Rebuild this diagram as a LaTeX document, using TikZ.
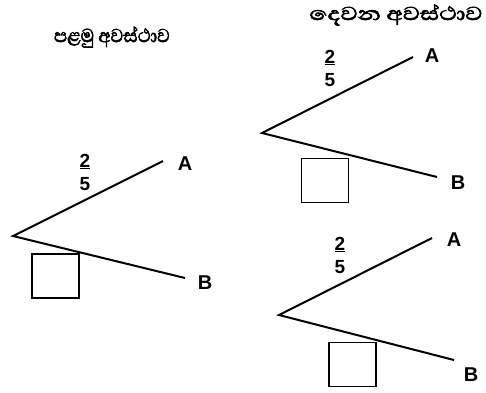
\documentclass[tikz,border=0pt]{standalone}
\usepackage{fontspec}
\setmainfont{Liberation Sans}
\newfontfamily\sinhfont[Script=Sinhala, FakeBold=2.5]{Abhaya Libre}
\begin{document}
\begin{tikzpicture}[x=1pt,y=-1pt,
  branch/.style={line width=2pt},
  lbl/.style={font=\fontsize{20}{22}\selectfont\bfseries, inner sep=0pt},
  frac/.style={font=\fontsize{19}{20}\selectfont\bfseries, inner sep=0pt, align=center},
  box/.style={draw, line width=1.4pt, minimum width=47pt, minimum height=44pt, inner sep=0pt},
  head/.style={font=\sinhfont\fontsize{24}{26}\selectfont, inner sep=0pt, transform shape}]
\useasboundingbox (0,0) rectangle (486,392);
% headings
\node[head, xscale=0.93] (h1) at (112,37) {පළමු අවස්ථාව};
\node[head, xscale=1.25] (h2) at (396,15) {දෙවන අවස්ථාව};
% first stage
\coordinate (v1) at (13,236);
\coordinate (a1) at (163,161);
\coordinate (b1) at (185,278);
\draw[branch] (a1) -- (v1) -- (b1);
\node[lbl] (A1) at (185,164) {A};
\node[lbl] (B1) at (205,283) {B};
\node[frac] (f1) at (85,172) {\underline{2}\\[3pt]5};
\node[box] (s1) at (55.5,276) {};
% second stage top
\coordinate (v2) at (262,133);
\coordinate (a2) at (413,57);
\coordinate (b2) at (437,177);
\draw[branch] (a2) -- (v2) -- (b2);
\node[lbl] (A2) at (432,56) {A};
\node[lbl] (B2) at (458,183) {B};
\node[frac] (f2) at (330,68) {\underline{2}\\[3pt]5};
\node[box] (s2) at (325,180.5) {};
% second stage bottom
\coordinate (v3) at (279,315);
\coordinate (a3) at (432,238);
\coordinate (b3) at (454,360);
\draw[branch] (a3) -- (v3) -- (b3);
\node[lbl] (A3) at (454,240) {A};
\node[lbl] (B3) at (471,375) {B};
\node[frac] (f3) at (340,255) {\underline{2}\\[3pt]5};
\node[box] (s3) at (352.5,364.5) {};
\end{tikzpicture}
\end{document}
